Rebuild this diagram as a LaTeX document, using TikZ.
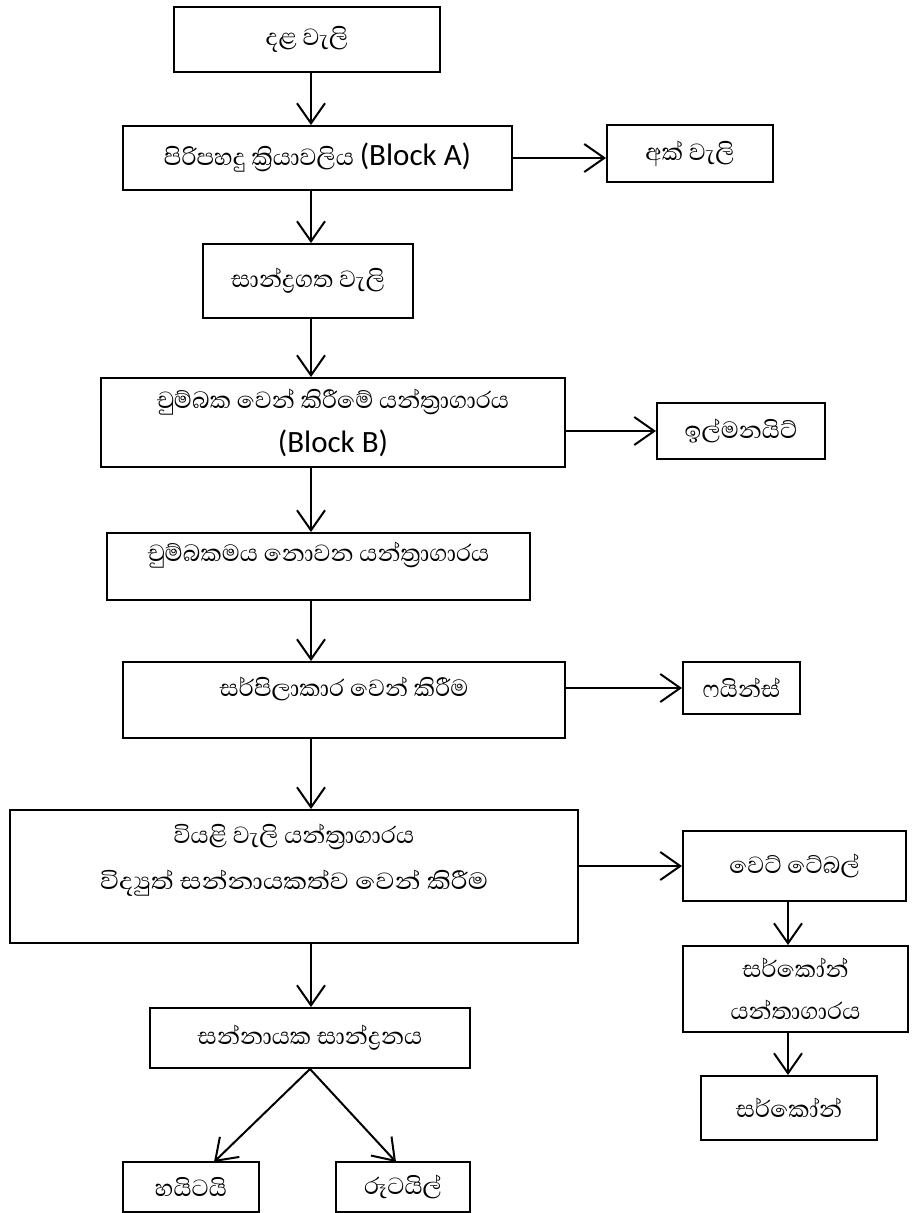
\documentclass[tikz,border=0pt]{standalone}
\usepackage{fontspec}
\usepackage{graphicx}
\setmainfont{Carlito}
\newfontfamily\sinfont[Script=Sinhala]{Abhaya Libre}
\usetikzlibrary{arrows.meta}
\newcommand{\blk}[1]{{\normalfont\fontsize{31}{36}\selectfont #1}}
\newcommand{\wide}[2]{\scalebox{#1}[1]{#2}}
\tikzset{>={Straight Barb[length=20pt,width=28pt]}}
\tikzset{box/.style={draw,line width=2pt,inner sep=0pt,align=center,
  font=\sinfont\fontsize{30}{42}\selectfont}}

\begin{document}
\begin{tikzpicture}[x=1pt,y=-1pt,line width=2pt]
\useasboundingbox (0,0) rectangle (914,1213);
\coordinate (spine) at (311,0);
\coordinate (sidex) at (788,0);
% main column
\node[box,minimum width=266pt,minimum height=65pt] (dala) at (307,39.5) {දළ වැලි};
\node[box,minimum width=389pt,minimum height=64pt] (piri) at (317.5,158) {පිරිපහදු ක්‍රියාවලිය \blk{(Block A)}};
\node[box,minimum width=210pt,minimum height=74pt] (sandra) at (308,281) {සාන්ද්‍රගත වැලි};
\node[box,minimum width=464pt,minimum height=89pt] (chum) at (333,422.5) {චුම්බක වෙන් කිරීමේ යන්ත්‍රාගාරය\\[2pt] \blk{(Block B)}};
\node[box,minimum width=423pt,minimum height=67pt,text depth=30pt] (nonmag) at (318.5,566.5) {චුම්බකමය නොවන යන්ත්‍රාගාරය};
\node[box,minimum width=442pt,minimum height=76pt,text depth=26pt] (spiral) at (344,700) {සර්පිලාකාර වෙන් කිරීම};
\node[box,minimum width=568pt,minimum height=133pt,text depth=40pt] (dry) at (294,876.5) {වියළි වැලි යන්ත්‍රාගාරය\\[4pt] \wide{1.12}{විද්‍යුත් සන්නායකත්ව වෙන් කිරීම}};
\node[box,minimum width=320pt,minimum height=60pt] (conc) at (310,1038) {සන්නායක සාන්ද්‍රනය};
\node[box,minimum width=136pt,minimum height=50pt] (hai) at (191,1187) {හයිටයි};
\node[box,minimum width=134pt,minimum height=50pt] (rut) at (403,1187) {රූටයිල්};
% side products
\node[box,minimum width=166pt,minimum height=57pt] (ak) at (690,153.5) {අක් වැලි};
\node[box,minimum width=168pt,minimum height=56pt] (ilm) at (741,431) {ඉල්මනයිට්};
\node[box,minimum width=117pt,minimum height=52pt] (fines) at (741.5,688) {ෆයින්ස්};
\node[box,minimum width=223pt,minimum height=70pt] (wet) at (794.5,866) {වෙට් ටේබල්};
\node[box,minimum width=225pt,minimum height=86pt] (zplant) at (795.5,989) {සර්කෝන්\\ යන්තාගාරය};
\node[box,minimum width=176pt,minimum height=64pt] (zircon) at (789,1108) {සර්කෝන්};
\coordinate (haitip) at (214,1162);
\coordinate (ruttip) at (396,1162);
% arrows
\draw[->] (dala.south -| spine) -- (piri.north -| spine);
\draw[->] (piri.south -| spine) -- (sandra.north -| spine);
\draw[->] (sandra.south -| spine) -- (chum.north -| spine);
\draw[->] (chum.south -| spine) -- (nonmag.north -| spine);
\draw[->] (nonmag.south -| spine) -- (spiral.north -| spine);
\draw[->] (spiral.south -| spine) -- (dry.north -| spine);
\draw[->] (dry.south -| spine) -- (conc.north -| spine);
\draw[->] (conc.south) -- (haitip);
\draw[->] (conc.south) -- (ruttip);
\draw[->] (piri.east) -- (piri.east -| ak.west);
\draw[->] (ilm.west -| chum.east) -- (ilm.west);
\draw[->] (fines.west -| spiral.east) -- (fines.west);
\draw[->] (wet.west -| dry.east) -- (wet.west);
\draw[->] (wet.south -| sidex) -- (zplant.north -| sidex);
\draw[->] (zplant.south -| sidex) -- (zircon.north -| sidex);
\end{tikzpicture}
\end{document}
